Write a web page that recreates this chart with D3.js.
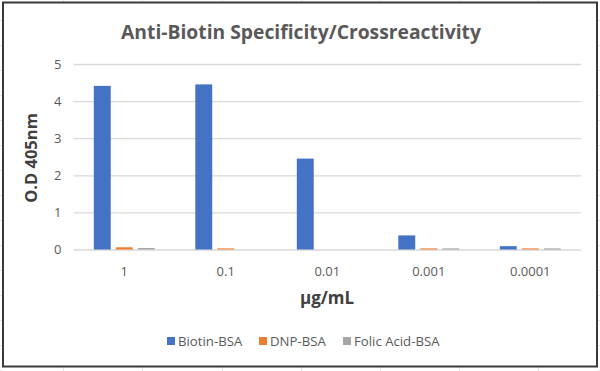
<!DOCTYPE html>
<html><head><meta charset="utf-8">
<script src="https://cdn.jsdelivr.net/npm/d3@7"></script>
<style>body{margin:0;background:#fff}svg{display:block}</style>
</head><body><svg id="c" width="600" height="371"></svg>
<script>
const categories = ["1", "0.1", "0.01", "0.001", "0.0001"];
const seriesNames = ["Biotin-BSA", "DNP-BSA", "Folic Acid-BSA"];
const biotinBSA = [4.41, 4.45, 2.45, 0.38, 0.09];
const dnpBSA = [0.06, 0.03, 0.0, 0.03, 0.03];
const folicBSA = [0.04, 0.0, 0.0, 0.03, 0.03];
const yTicks = [0, 1, 2, 3, 4, 5];
const colors = ["#4472C4", "#ED7D31", "#A5A5A5"];

const series = [biotinBSA, dnpBSA, folicBSA];
const svg = d3.select("#c");
const font = "'Open Sans', 'Liberation Sans', sans-serif";
const txt = "#595959";

// spreadsheet background lines outside chart
const bg = svg.append("g").attr("stroke", "#e4e4e4").attr("stroke-width", 1);
[63, 142, 222, 301, 380, 459, 538].forEach(x => {
  bg.append("line").attr("x1", x + .5).attr("x2", x + .5).attr("y1", 0).attr("y2", 3);
  bg.append("line").attr("x1", x + .5).attr("x2", x + .5).attr("y1", 367).attr("y2", 371);
});
d3.range(20, 371, 25).forEach(y => {
  bg.append("line").attr("x1", 0).attr("x2", 2).attr("y1", y + .5).attr("y2", y + .5);
  bg.append("line").attr("x1", 598).attr("x2", 600).attr("y1", y + .5).attr("y2", y + .5);
});

// chart border
svg.append("rect").attr("x", 3).attr("y", 2.5).attr("width", 594).attr("height", 364)
  .attr("fill", "#fff").attr("stroke", "#3a3a3a").attr("stroke-width", 2);

const x0 = d3.scaleBand().domain(categories).range([73.5, 581]).paddingInner(0.4).paddingOuter(0.2);
const x1 = d3.scaleBand().domain(seriesNames).range([0, x0.bandwidth()]).paddingInner(0.23);
const y = d3.scaleLinear().domain([0, 5]).range([249.5, 64]);

// gridlines
const yAxis = d3.axisLeft(y).tickValues(yTicks).tickSize(-(581 - 73.5)).tickPadding(12).tickFormat(d3.format("d"));
const ga = svg.append("g").attr("transform", "translate(73.5,0)").call(yAxis);
ga.select(".domain").remove();
ga.selectAll(".tick line").attr("stroke", "#d9d9d9").attr("stroke-width", 1.3);
ga.selectAll(".tick text").attr("fill", txt).style("font-family", font).style("font-size", "13px");

// bars
series.forEach((vals, si) => {
  svg.append("g").selectAll("rect").data(vals).join("rect")
    .attr("x", (d, i) => x0(categories[i]) + x1(seriesNames[si]))
    .attr("width", x1.bandwidth())
    .attr("y", d => y(d))
    .attr("height", d => y(0) - y(d))
    .attr("fill", colors[si]);
});

// x axis labels
const xAxis = d3.axisBottom(x0).tickSize(0).tickPadding(17);
const gx = svg.append("g").attr("transform", "translate(0,250)").call(xAxis);
gx.select(".domain").remove();
gx.selectAll(".tick text").attr("fill", txt).style("font-family", font).style("font-size", "13px");

// titles
svg.append("text").attr("x", 301).attr("y", 39).attr("text-anchor", "middle")
  .attr("fill", txt).style("font-family", font).style("font-size", "19.3px").style("font-weight", "bold")
  .text("Anti-Biotin Specificity/Crossreactivity");
svg.append("text").attr("transform", "translate(37,158) rotate(-90)").attr("text-anchor", "middle")
  .attr("fill", "#404040").style("font-family", font).style("font-size", "16.5px").style("font-weight", "bold")
  .text("O.D 405nm");
svg.append("text").attr("x", 327).attr("y", 304).attr("text-anchor", "middle")
  .attr("fill", "#404040").style("font-family", font).style("font-size", "17px").style("font-weight", "bold")
  .text("μg/mL");

// legend
const legX = [167, 259, 343];
const lg = svg.append("g");
seriesNames.forEach((n, i) => {
  lg.append("rect").attr("x", legX[i]).attr("y", 337).attr("width", 8).attr("height", 8).attr("fill", colors[i]);
  lg.append("text").attr("x", legX[i] + 11).attr("y", 345.5).attr("fill", txt)
    .style("font-family", font).style("font-size", "13.2px").text(n);
});
</script></body></html>
